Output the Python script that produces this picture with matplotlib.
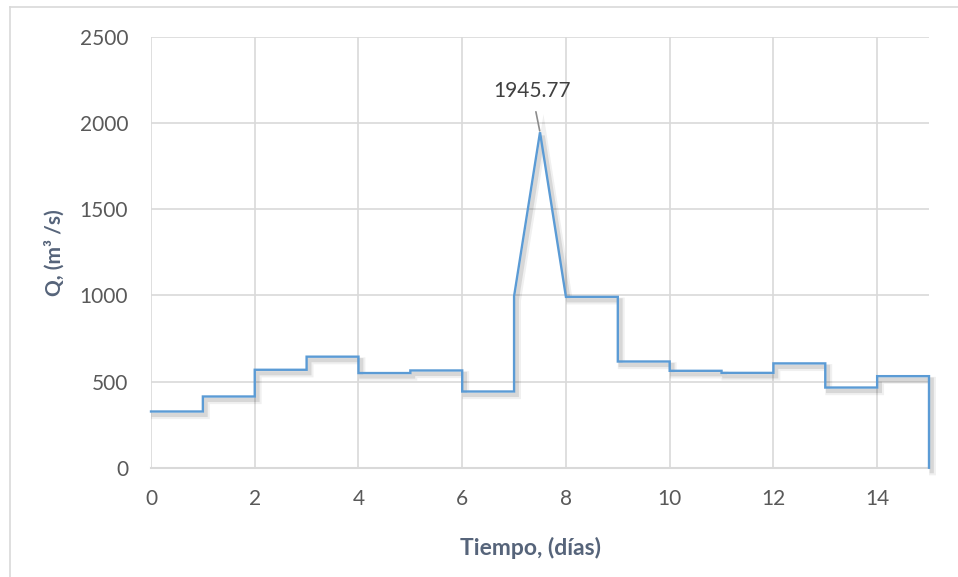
import matplotlib
matplotlib.use("Agg")
import matplotlib.pyplot as plt
import matplotlib.patheffects as pe
from matplotlib.lines import Line2D
import numpy as np

# ---- data ----
step_start = [0, 1, 2, 3, 4, 5, 6, 8, 9, 10, 11, 12, 13, 14]
step_q = [326, 413, 568, 644, 549, 564, 442, 991, 616, 562, 550, 605, 465, 531]
peak_t = [7, 7.5, 8]
peak_q = [994, 1945.77, 991]
end_t = 15
end_q = 0
x_ticks = [0, 2, 4, 6, 8, 10, 12, 14]
y_ticks = [0, 500, 1000, 1500, 2000, 2500]
peak_label = "1945.77"

# build hydrograph path
t_pts, q_pts = [], []
for s, q in zip(step_start, step_q):
    if s == 8:
        t_pts += peak_t[:2]
        q_pts += peak_q[:2]
    t_pts += [s, s + 1]
    q_pts += [q, q]
t_pts.append(end_t)
q_pts.append(end_q)

plt.rcParams['font.family'] = ['Lato', 'DejaVu Sans']

fig = plt.figure(figsize=(9.58, 5.77), dpi=100)
ax = fig.add_axes([151/958, 1 - 467.7/577, (929-151)/958, (467.7-36.7)/577])

grid_c = '#d9d9d9'
ax.plot(t_pts, q_pts, color='#5b9bd5', lw=1.7, solid_joinstyle='miter', zorder=3,
        clip_on=False,
        path_effects=[pe.SimpleLineShadow(offset=(2.5, -3), shadow_color='k', alpha=0.06, linewidth=5),
                      pe.SimpleLineShadow(offset=(2, -2.5), shadow_color='k', alpha=0.10, linewidth=3),
                      pe.Normal()])

ax.set_xlim(0, 15)
ax.set_ylim(0, 2500)
ax.set_xticks(x_ticks)
ax.set_yticks(y_ticks)
ax.grid(True, color=grid_c, lw=1.2)
ax.set_axisbelow(True)
for sp in ['top', 'right', 'left']:
    ax.spines[sp].set_visible(False)
ax.spines['bottom'].set_color(grid_c)
ax.spines['bottom'].set_linewidth(1.5)
ax.tick_params(length=0, labelsize=15, labelcolor='#595959')
ax.tick_params(axis='y', pad=16.5)
ax.tick_params(axis='x', pad=15)

lab_c = '#56647a'
ax.set_xlabel('Tiempo, (días)', fontsize=16.5, fontweight='bold', color=lab_c)
ax.xaxis.set_label_coords((531 - 151) / 778, (467.7 - 537) / 431)
ax.set_ylabel('Q, (m³ /s)', fontsize=15, fontweight='bold', color=lab_c, labelpad=11)

ax.annotate(peak_label, xy=(peak_t[1], peak_q[1]), xytext=(7.34, 2186),
            ha='center', va='center', fontsize=15, color='#404040',
            arrowprops=dict(arrowstyle='-', color='#8c8c8c', lw=1.2, shrinkA=6, shrinkB=1))

# outer chart frame (top and left)
fig.add_artist(Line2D([10/958, 1], [1 - 7/577, 1 - 7/577], color=grid_c, lw=1.2))
fig.add_artist(Line2D([10/958, 10/958], [0, 1 - 7/577], color=grid_c, lw=1.2))

fig.savefig('out.png', dpi=100)
